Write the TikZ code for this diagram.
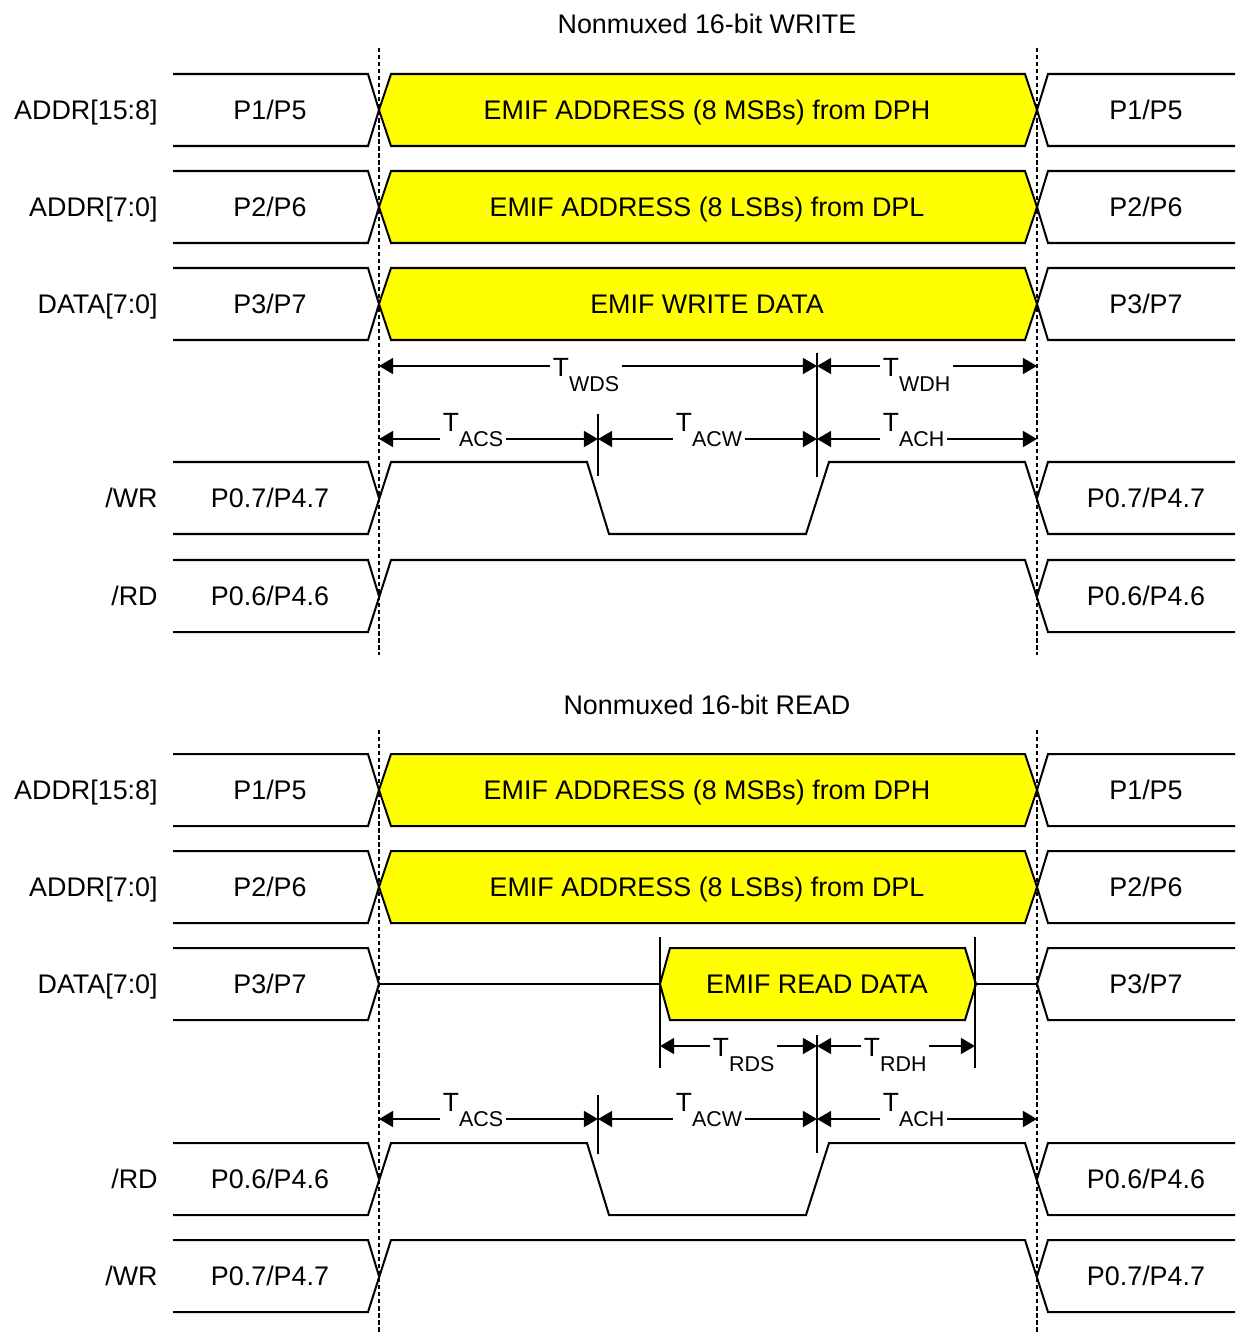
\documentclass[tikz,border=0pt]{standalone}
\usepackage{fontspec}
\setmainfont{Liberation Sans}
\usetikzlibrary{arrows.meta, positioning}

\definecolor{emifyellow}{RGB}{255,255,0}
\tikzset{
  wave/.style={line width=1.15pt},
  busfill/.style={wave, fill=emifyellow},
  edgeline/.style={line width=1pt, dash pattern=on 2.4pt off 1.6pt},
  marker/.style={line width=1.15pt},
  span/.style={line width=1.15pt, >={Triangle[length=8pt,width=9pt]}, <->},
  lbl/.style={font=\fontsize{15.3}{17}\selectfont, inner sep=0pt, text height=11pt, text depth=0pt},
  tlbl/.style={fill=white, inner sep=1.5pt, anchor=base west, font=\fontsize{15}{17}\selectfont},
}
\newcommand{\tsub}[1]{T\raisebox{-9pt}{\fontsize{12.2}{13}\selectfont #1}}

\begin{document}
\begin{tikzpicture}[x=0.02cm, y=-0.02cm]
      \useasboundingbox (0,0) rectangle (1235,1333);

      % titles
      \node[lbl] (wrtitle) at (707,24) {Nonmuxed 16-bit WRITE};
      \node[lbl] (rdtitle) at (707,705) {Nonmuxed 16-bit READ};

      % dotted edges
      \draw[edgeline] (379,48) -- (379,655);
      \draw[edgeline] (1037,48) -- (1037,655);
      \draw[edgeline] (379,730) -- (379,1333);
      \draw[edgeline] (1037,730) -- (1037,1333);

      % buses with EMIF values
      \foreach \t/\txt in {74/{EMIF ADDRESS (8 MSBs) from DPH}, 171/{EMIF ADDRESS (8 LSBs) from DPL}, 268/{EMIF WRITE DATA}, 754/{EMIF ADDRESS (8 MSBs) from DPH}, 851/{EMIF ADDRESS (8 LSBs) from DPL}} {
        \draw[wave] (173,\t) -- (368,\t) -- (379,\t+36) -- (368,\t+72) -- (173,\t+72);
        \draw[busfill] (379,\t+36) -- (391,\t) -- (1025,\t) -- (1037,\t+36) -- (1025,\t+72) -- (391,\t+72) -- cycle;
        \draw[wave] (1235,\t) -- (1048,\t) -- (1037,\t+36) -- (1048,\t+72) -- (1235,\t+72);
        \node[lbl] (emif\t) at (707,\t+36) {\txt};
      }

      % read data bus
      \draw[wave] (173,948) -- (368,948) -- (379,984) -- (368,1020) -- (173,1020);
      \draw[wave] (379,984) -- (660,984);
      \draw[busfill] (660,984) -- (670,948) -- (965,948) -- (976,984) -- (965,1020) -- (670,1020) -- cycle;
      \draw[wave] (976,984) -- (1037,984);
      \draw[wave] (1235,948) -- (1048,948) -- (1037,984) -- (1048,1020) -- (1235,1020);
      \node[lbl] (rddata) at (817,984) {EMIF READ DATA};

      % strobes with pulse
      \foreach \t in {462,1143} {
        \draw[wave] (173,\t) -- (368,\t) -- (379,\t+36);
        \draw[wave] (173,\t+72) -- (368,\t+72) -- (391,\t) -- (587,\t) -- (609,\t+72) -- (806,\t+72) -- (829,\t) -- (1025,\t) -- (1048,\t+72) -- (1235,\t+72);
        \draw[wave] (1235,\t) -- (1048,\t) -- (1037,\t+36);
      }
      % idle strobes
      \foreach \t in {560,1240} {
        \draw[wave] (173,\t) -- (368,\t) -- (379,\t+36);
        \draw[wave] (173,\t+72) -- (368,\t+72) -- (391,\t) -- (1025,\t) -- (1048,\t+72) -- (1235,\t+72);
        \draw[wave] (1235,\t) -- (1048,\t) -- (1037,\t+36);
      }

      % signal names
      \node[lbl, anchor=east] (nahiW) at (158,110) {ADDR[15:8]};
      \node[lbl, anchor=east] (naloW) at (158,207) {ADDR[7:0]};
      \node[lbl, anchor=east] (ndatW) at (158,304) {DATA[7:0]};
      \node[lbl, anchor=east] (nwrW) at (158,498) {/WR};
      \node[lbl, anchor=east] (nrdW) at (158,596) {/RD};
      \node[lbl, anchor=east] (nahiR) at (158,790) {ADDR[15:8]};
      \node[lbl, anchor=east] (naloR) at (158,887) {ADDR[7:0]};
      \node[lbl, anchor=east] (ndatR) at (158,984) {DATA[7:0]};
      \node[lbl, anchor=east] (nrdR) at (158,1179) {/RD};
      \node[lbl, anchor=east] (nwrR) at (158,1276) {/WR};

      % port values before
      \node[lbl] (pahiW) at (270,110) {P1/P5};
      \node[lbl] (paloW) at (270,207) {P2/P6};
      \node[lbl] (pdatW) at (270,304) {P3/P7};
      \node[lbl] (pwrW) at (270,498) {P0.7/P4.7};
      \node[lbl] (prdW) at (270,596) {P0.6/P4.6};
      \node[lbl] (pahiR) at (270,790) {P1/P5};
      \node[lbl] (paloR) at (270,887) {P2/P6};
      \node[lbl] (pdatR) at (270,984) {P3/P7};
      \node[lbl] (prdR) at (270,1179) {P0.6/P4.6};
      \node[lbl] (pwrR) at (270,1276) {P0.7/P4.7};

      % port values after
      \node[lbl] (qahiW) at (1146,110) {P1/P5};
      \node[lbl] (qaloW) at (1146,207) {P2/P6};
      \node[lbl] (qdatW) at (1146,304) {P3/P7};
      \node[lbl] (qwrW) at (1146,498) {P0.7/P4.7};
      \node[lbl] (qrdW) at (1146,596) {P0.6/P4.6};
      \node[lbl] (qahiR) at (1146,790) {P1/P5};
      \node[lbl] (qaloR) at (1146,887) {P2/P6};
      \node[lbl] (qdatR) at (1146,984) {P3/P7};
      \node[lbl] (qrdR) at (1146,1179) {P0.6/P4.6};
      \node[lbl] (qwrR) at (1146,1276) {P0.7/P4.7};

      % timing marks, write
      \draw[marker] (598,414) -- (598,476);
      \draw[marker] (817,353) -- (817,477);
      \coordinate (wds0) at (379,366);
      \coordinate (wds1) at (817,366);
      \coordinate (wdh1) at (1037,366);
      \coordinate (wacs0) at (379,439);
      \coordinate (wacs1) at (598,439);
      \coordinate (wacw1) at (817,439);
      \coordinate (wach1) at (1037,439);
      \draw[span] (wds0) -- (wds1);
      \draw[span] (wds1) -- (wdh1);
      \draw[span] (wacs0) -- (wacs1);
      \draw[span] (wacs1) -- (wacw1);
      \draw[span] (wacw1) -- (wach1);
      \node[tlbl] (twds) at (550,376) {\tsub{WDS}};
      \node[tlbl] (twdh) at (880,376) {\tsub{WDH}};
      \node[tlbl] (tacsW) at (440,431) {\tsub{ACS}};
      \node[tlbl] (tacwW) at (673,431) {\tsub{ACW}};
      \node[tlbl] (tachW) at (880,431) {\tsub{ACH}};

      % timing marks, read
      \draw[marker] (660,937) -- (660,1068);
      \draw[marker] (975,937) -- (975,1068);
      \draw[marker] (817,1035) -- (817,1153);
      \draw[marker] (598,1095) -- (598,1154);
      \coordinate (rds0) at (660,1046);
      \coordinate (rds1) at (817,1046);
      \coordinate (rdh1) at (975,1046);
      \coordinate (racs0) at (379,1119);
      \coordinate (racs1) at (598,1119);
      \coordinate (racw1) at (817,1119);
      \coordinate (rach1) at (1037,1119);
      \draw[span] (rds0) -- (rds1);
      \draw[span] (rds1) -- (rdh1);
      \draw[span] (racs0) -- (racs1);
      \draw[span] (racs1) -- (racw1);
      \draw[span] (racw1) -- (rach1);
      \node[tlbl] (trds) at (710,1056) {\tsub{RDS}};
      \node[tlbl] (trdh) at (861,1056) {\tsub{RDH}};
      \node[tlbl] (tacsR) at (440,1111) {\tsub{ACS}};
      \node[tlbl] (tacwR) at (673,1111) {\tsub{ACW}};
      \node[tlbl] (tachR) at (880,1111) {\tsub{ACH}};
\end{tikzpicture}
\end{document}
